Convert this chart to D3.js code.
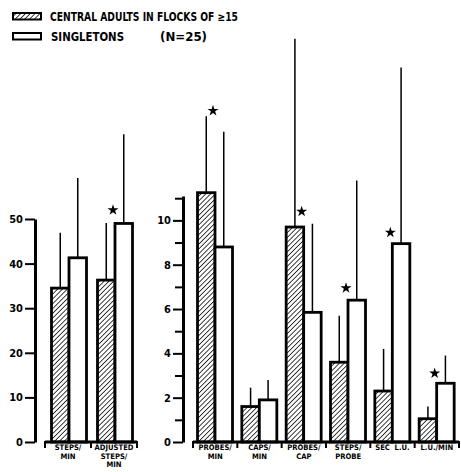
<!DOCTYPE html>
<html><head><meta charset="utf-8">
<script src="https://cdn.jsdelivr.net/npm/d3@7"></script>
<style>body{margin:0;background:#fff}svg{display:block}</style>
</head><body>
<svg id="c" width="461" height="472"></svg>
<script>
// ---- data ----
const seriesNames = ["CENTRAL ADULTS IN FLOCKS OF \u226515", "SINGLETONS"];
const seriesNote = "(N=25)";

const leftCategories = [["STEPS/", "MIN"], ["ADJUSTED", "STEPS/", "MIN"]];
const leftCentral = [34.5, 36.3];
const leftCentralErr = [46.9, 49.1];
const leftSingle = [41.3, 49.0];
const leftSingleErr = [59.2, 69.0];
const leftStars = [null, 52];
const leftTicks = [0, 10, 20, 30, 40, 50];

const rightCategories = [["PROBES/", "MIN"], ["CAPS/", "MIN"], ["PROBES/", "CAP"], ["STEPS/", "PROBE"], ["SEC  L.U."], ["L.U./MIN"]];
const rightCentral = [11.25, 1.6, 9.7, 3.6, 2.3, 1.05];
const rightCentralErr = [14.7, 2.45, 18.2, 5.7, 4.2, 1.6];
const rightSingle = [8.8, 1.9, 5.85, 6.4, 8.95, 2.65];
const rightSingleErr = [14.0, 2.8, 9.85, 11.8, 16.9, 3.9];
const rightStars = [14.95, null, 10.4, 6.95, 9.45, 3.1];
const rightMajorTicks = [0, 2, 4, 6, 8, 10];
const rightMinorTicks = [1, 3, 5, 7, 9, 11];

const svg = d3.select("#c");
const FONT = "'DejaVu Sans Condensed', 'DejaVu Sans', sans-serif";

// hatch pattern
const defs = svg.append("defs");
defs.append("pattern").attr("id", "hatch").attr("patternUnits", "userSpaceOnUse")
  .attr("width", 3.4).attr("height", 3.4).attr("patternTransform", "rotate(45)")
  .append("line").attr("x1", 0).attr("y1", 0).attr("x2", 0).attr("y2", 3.4)
  .attr("stroke", "#000").attr("stroke-width", 1.5);

function panel(cfg) {
  const g = svg.append("g");
  const y = d3.scaleLinear().domain(cfg.yDomain).range([442, cfg.yTop]);
  const keys = cfg.categories.map((c, i) => i);
  const x = d3.scaleBand().domain(keys).range(cfg.xRange).padding(0);
  const sub = d3.scaleBand().domain([0, 1])
    .range([cfg.barOffset, cfg.barOffset + 2 * cfg.barWidth]).padding(0);

  // axis
  const ax = d3.axisLeft(y).tickValues(cfg.majorTicks).tickSize(10).tickSizeOuter(0).tickPadding(2);
  const ga = g.append("g").attr("transform", `translate(${cfg.axisX},0)`).call(ax);
  ga.select(".domain").attr("stroke-width", 3);
  ga.selectAll(".tick line").attr("stroke-width", 2);
  ga.selectAll(".tick text").attr("font-family", FONT).attr("font-weight", "bold")
    .attr("font-size", 11).attr("fill", "#000");
  if (cfg.minorTicks) {
    const am = d3.axisLeft(y).tickValues(cfg.minorTicks).tickSize(8).tickSizeOuter(0).tickFormat("");
    const gm = g.append("g").attr("transform", `translate(${cfg.axisX},0)`).call(am);
    gm.select(".domain").remove();
    gm.selectAll(".tick line").attr("stroke-width", 2);
  }

  // error bars
  const groups = keys.map(i => ({ i, vals: [cfg.central[i], cfg.single[i]], errs: [cfg.centralErr[i], cfg.singleErr[i]] }));
  groups.forEach(gr => {
    [0, 1].forEach(s => {
      const cx = x(gr.i) + sub(s) + sub.bandwidth() / 2;
      g.append("line").attr("x1", cx).attr("x2", cx)
        .attr("y1", y(gr.vals[s])).attr("y2", y(gr.errs[s]))
        .attr("stroke", "#000").attr("stroke-width", 1.5);
    });
  });
  // bars
  groups.forEach(gr => {
    [0, 1].forEach(s => {
      g.append("rect")
        .attr("x", x(gr.i) + sub(s)).attr("y", y(gr.vals[s]))
        .attr("width", sub.bandwidth()).attr("height", y(0) - y(gr.vals[s]))
        .attr("fill", s === 0 ? "url(#hatch)" : "#fff")
        .attr("stroke", "#000").attr("stroke-width", 2.8);
    });
  });
  // stars
  cfg.stars.forEach((v, i) => {
    if (v == null) return;
    const sx = x(i) + sub(1) - 2;
    g.append("path").attr("d", d3.symbol(d3.symbolStar, 38)())
      .attr("transform", `translate(${sx},${y(v)})`).attr("fill", "#000");
  });
  // baseline brackets
  g.append("line").attr("x1", cfg.xRange[0]).attr("x2", cfg.xRange[1])
    .attr("y1", 442).attr("y2", 442).attr("stroke", "#000").attr("stroke-width", 3);
  const bounds = keys.map(k => x(k)).concat([cfg.xRange[1]]);
  bounds.forEach(b => {
    g.append("line").attr("x1", b).attr("x2", b).attr("y1", 441).attr("y2", 448)
      .attr("stroke", "#000").attr("stroke-width", 2);
  });
  // category labels
  cfg.categories.forEach((lines, i) => {
    const cx = x(i) + x.bandwidth() / 2;
    lines.forEach((t, j) => {
      g.append("text").attr("x", cx).attr("y", 450 + j * 8.6)
        .attr("text-anchor", "middle").attr("font-family", FONT)
        .attr("font-weight", "bold").attr("font-size", 7.6).attr("fill", "#000")
        .attr("xml:space", "preserve").text(t);
    });
  });
}

panel({
  categories: leftCategories, central: leftCentral, centralErr: leftCentralErr,
  single: leftSingle, singleErr: leftSingleErr, stars: leftStars,
  yDomain: [0, 50], yTop: 219, majorTicks: leftTicks, minorTicks: null,
  axisX: 35, xRange: [45, 137], barOffset: 6.5, barWidth: 17.5
});
panel({
  categories: rightCategories, central: rightCentral, centralErr: rightCentralErr,
  single: rightSingle, singleErr: rightSingleErr, stars: rightStars,
  yDomain: [0, 11.1], yTop: 196, majorTicks: rightMajorTicks, minorTicks: rightMinorTicks,
  axisX: 183, xRange: [193, 459], barOffset: 4.5, barWidth: 17.5
});

// legend
const lg = svg.append("g");
lg.append("rect").attr("x", 13).attr("y", 13).attr("width", 28).attr("height", 6.5)
  .attr("fill", "url(#hatch)").attr("stroke", "#000").attr("stroke-width", 2);
lg.append("rect").attr("x", 13).attr("y", 33).attr("width", 28).attr("height", 6.5)
  .attr("fill", "#fff").attr("stroke", "#000").attr("stroke-width", 2);
lg.append("text").attr("x", 50).attr("y", 21).attr("font-family", FONT)
  .attr("font-weight", "bold").attr("font-size", 11.5).attr("fill", "#000")
  .attr("textLength", 188).attr("lengthAdjust", "spacingAndGlyphs").text(seriesNames[0]);
lg.append("text").attr("x", 51).attr("y", 41).attr("font-family", FONT)
  .attr("font-weight", "bold").attr("font-size", 11.5).attr("fill", "#000")
  .attr("textLength", 73).attr("lengthAdjust", "spacingAndGlyphs").text(seriesNames[1]);
lg.append("text").attr("x", 160).attr("y", 41).attr("font-family", FONT)
  .attr("font-weight", "bold").attr("font-size", 11.5).attr("fill", "#000")
  .attr("textLength", 47).attr("lengthAdjust", "spacingAndGlyphs").text(seriesNote);
</script>
</body></html>
